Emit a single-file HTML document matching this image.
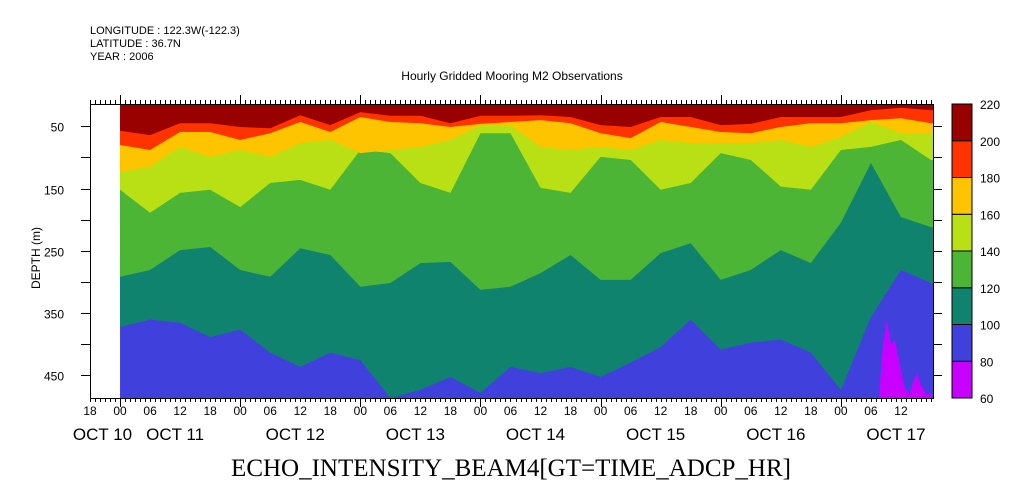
<!DOCTYPE html>
<html><head><meta charset="utf-8"><style>
html,body{margin:0;padding:0;background:#fff}
svg{display:block}
text{font-family:"Liberation Sans",sans-serif;fill:#000}
</style></head><body>
<svg id="chart" width="1009" height="504" viewBox="0 0 1009 504" xmlns="http://www.w3.org/2000/svg">
<g id="hdr">
<text x="90" y="34" font-size="11">LONGITUDE : 122.3W(-122.3)</text>
<text x="90" y="47" font-size="11">LATITUDE : 36.7N</text>
<text x="90" y="60" font-size="11">YEAR : 2006</text>
<text x="512" y="80" font-size="12" text-anchor="middle">Hourly Gridded Mooring M2 Observations</text>
</g>
<g id="plot"></g>
<g id="axes"></g>
<g id="cbar"></g>
<text x="511" y="476" font-size="25" text-anchor="middle" style="font-family:'Liberation Serif',serif">ECHO_INTENSITY_BEAM4[GT=TIME_ADCP_HR]</text>
<text transform="translate(40,258) rotate(-90)" font-size="12" text-anchor="middle">DEPTH (m)</text>
</svg>
<script>
// hours since 00 Oct 11 (sample times)
const times = [0,6,12,18,24,30,36,42,48,54,60,66,72,78,84,90,96,102,108,114,120,126,132,138,144,150,156,162];
// contour boundary depths (m) for each level
const b200 = [57,64,45,45,51,53,32,48,27,33,33,45,33,33,32,35,48,51,35,35,48,46,35,35,35,24,20,24];
const b180 = [80,88,59,59,72,61,43,59,35,43,45,51,46,43,40,45,61,69,43,51,59,61,51,45,45,40,37,45];
const b160 = [123,115,83,99,88,99,77,72,93,88,83,72,48,48,83,88,83,88,72,77,77,77,72,83,67,43,61,61];
const b140 = [152,189,157,152,180,141,136,152,88,93,141,157,61,61,149,157,99,104,152,141,93,104,147,152,88,83,72,104];
const b120 = [292,281,249,244,281,292,246,257,308,302,270,268,313,308,286,257,297,297,254,238,297,281,249,270,205,109,196,212];
const b100 = [373,361,366,389,377,414,437,414,426,490,474,453,479,437,447,437,453,430,405,361,409,398,393,414,474,357,281,302];
const magentaTimes = [151.6,152.4,153.2,154,154.8,155.6,156.6,157.6,158.6,159.2,160,161.2,162.2];
const magentaDepth = [487,402,361,402,393,426,466,482,458,447,466,482,479];
const levels = [60,80,100,120,140,160,180,200,220];
const levelColors = ["#c800ff","#4040dd","#10836f","#4cb535","#b8e014","#ffc400","#ff3300","#990000"];
const hourLabels = ["18","00","06","12","18","00","06","12","18","00","06","12","18","00","06","12","18","00","06","12","18","00","06","12","18","00","06","12"];
const dateLabels = ["OCT 10","OCT 11","OCT 12","OCT 13","OCT 14","OCT 15","OCT 16","OCT 17"];
const depthTicks = [50,100,150,200,250,300,350,400,450];
const depthLabels = ["50","","150","","250","","350","","450"];

const NS="http://www.w3.org/2000/svg";
const X0=90,X1=933,Y0=104,Y1=398, D0=14, D1=487, T0=-6, T1=162.4;
const xS=t=>X0+(t-T0)*(X1-X0)/(T1-T0);
const yS=d=>Y0+(d-D0)*(Y1-Y0)/(D1-D0);
function mk(tag,attrs,parent){const e=document.createElementNS(NS,tag);for(const k in attrs)e.setAttribute(k,attrs[k]);parent.appendChild(e);return e;}
const plot=document.getElementById('plot');
const axes=document.getElementById('axes');
const cbar=document.getElementById('cbar');

let bg=mk('rect',{x:xS(0),y:Y0,width:X1-xS(0),height:Y1-Y0,fill:levelColors[1]},plot);


const bands=[[b100,2,'band-100-120'],[b120,3,'band-120-140'],[b140,4,'band-140-160'],[b160,5,'band-160-180'],[b180,6,'band-180-200'],[b200,7,'band-200-220']];
bands.forEach(([arr,ci,name])=>{
  let pts=[[xS(times[0]),Y0]];
  arr.forEach((d,i)=>pts.push([xS(times[i]),yS(Math.min(d,D1))]));
  pts.push([X1,yS(Math.min(arr[arr.length-1],D1))]);
  pts.push([X1,Y0]);
  const p=mk('polygon',{points:pts.map(p=>p.join(',')).join(' '),fill:levelColors[ci]},plot);
  
  
});
{
  let pts=[];
  magentaDepth.forEach((d,i)=>pts.push([Math.min(X1,xS(magentaTimes[i])),yS(d)]));
  pts.push([Math.min(X1,xS(magentaTimes[magentaTimes.length-1])),Y1]);
  pts.push([xS(magentaTimes[0]),Y1]);
  const p=mk('polygon',{points:pts.map(p=>p.join(',')).join(' '),fill:levelColors[0]},plot);
  
  
}
const fr=mk('rect',{x:X0+0.5,y:Y0+0.5,width:X1-X0,height:Y1-Y0,fill:'none',stroke:'#000','stroke-width':1},axes);


let tp='';
for(let h=-6;h<=162;h++){
  const x=Math.round(xS(h))+0.5;const L=(h%24===0)?9:4;
  tp+=`M${x},${Y0}V${Y0-L}M${x},${Y1}V${Y1+L}`;
}
const tk=mk('path',{d:tp,stroke:'#000','stroke-width':1,fill:'none'},axes);


hourLabels.forEach((s,i)=>{
  const t=mk('text',{x:xS(-6+i*6),y:415,'font-size':12,'text-anchor':'middle'},axes);t.textContent=s;
  
  
});
dateLabels.forEach((s,i)=>{
  const c=i===0?-3.5:(i-1)*24+11;
  const t=mk('text',{x:xS(c),y:440,'font-size':17,'text-anchor':'middle'},axes);t.textContent=s;
  
  
});
let dp='';
depthTicks.forEach((d,i)=>{
  const y=Math.round(yS(d))+0.5;
  dp+=`M${X0},${y}H${X0-9}M${X1},${y}H${X1+9}`;
  if(depthLabels[i]){
    const t=mk('text',{x:X0-26,y:y+5,'font-size':12,'text-anchor':'end'},axes);t.textContent=depthLabels[i];
    
    
  }
});
const dk=mk('path',{d:dp,stroke:'#000','stroke-width':1,fill:'none'},axes);


const CX=952,CW=20,nb=levelColors.length,bh=(Y1-Y0)/nb;
levelColors.forEach((c,i)=>{
  const r=mk('rect',{x:CX,y:Y1-(i+1)*bh,width:CW,height:bh,fill:c,stroke:'#000','stroke-width':1},cbar);
  
  
});
levels.forEach((v,i)=>{
  const t=mk('text',{x:CX+28,y:Y1-i*bh+5,'font-size':12},cbar);t.textContent=v;
  
  
});
</script>
</body></html>
